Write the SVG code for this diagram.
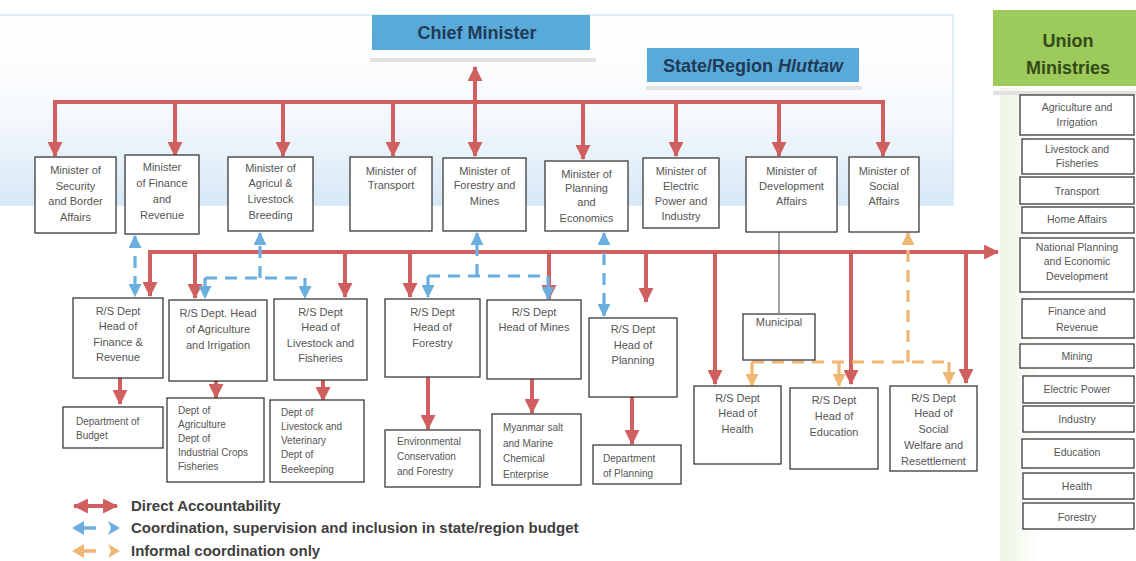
<svg xmlns="http://www.w3.org/2000/svg" width="1136" height="561" viewBox="0 0 1136 561">
<style>
.box{fill:#fff;stroke:#3a3a3a;stroke-width:1.3}
.t{font-family:"Liberation Sans",Arial,sans-serif;font-size:11px;fill:#555;text-anchor:middle}
.tl{font-family:"Liberation Sans",Arial,sans-serif;font-size:10px;fill:#555;text-anchor:start}
.tu{font-family:"Liberation Sans",Arial,sans-serif;font-size:10.5px;fill:#555;text-anchor:middle}
.title{font-family:"Liberation Sans",Arial,sans-serif;font-size:18px;font-weight:bold;text-anchor:middle}
.leg{font-family:"Liberation Sans",Arial,sans-serif;font-size:15px;font-weight:bold;fill:#404040}
.red{fill:none;stroke:#d0605f;stroke-width:4}
.blue{fill:none;stroke:#6aafdf;stroke-width:3.2;stroke-dasharray:12 8}
.orange{fill:none;stroke:#f0b774;stroke-width:3.2;stroke-dasharray:12 8}
.thin{fill:none;stroke:#444;stroke-width:1}
</style>
<defs>
<linearGradient id="bluePanel" x1="0" y1="0" x2="0" y2="1">
<stop offset="0" stop-color="#ffffff"/>
<stop offset="0.5" stop-color="#f7fafd"/>
<stop offset="1" stop-color="#d6e8f6"/>
</linearGradient>
<linearGradient id="greenPanel" x1="0" y1="0" x2="1" y2="0">
<stop offset="0" stop-color="#edf5e3"/>
<stop offset="0.3" stop-color="#ffffff"/>
<stop offset="1" stop-color="#ffffff"/>
</linearGradient>
<marker id="ar" viewBox="0 0 14 14" markerWidth="15" markerHeight="15" refX="13" refY="7" orient="auto-start-reverse" markerUnits="userSpaceOnUse">
<path d="M0,0 L14,7 L0,14 z" fill="#d0605f"/>
</marker>
<marker id="ab" viewBox="0 0 12 12" markerWidth="13" markerHeight="13" refX="11" refY="6" orient="auto-start-reverse" markerUnits="userSpaceOnUse">
<path d="M0,0 L12,6 L0,12 z" fill="#6aafdf"/>
</marker>
<marker id="ao" viewBox="0 0 12 12" markerWidth="13" markerHeight="13" refX="11" refY="6" orient="auto-start-reverse" markerUnits="userSpaceOnUse">
<path d="M0,0 L12,6 L0,12 z" fill="#f0b774"/>
</marker>
</defs>

<rect x="0" y="0" width="1136" height="561" fill="#ffffff"/>
<rect x="-5" y="15" width="958" height="190" fill="url(#bluePanel)" stroke="#d8e7f3" stroke-width="1.5"/>
<rect x="1000" y="88" width="136" height="473" fill="url(#greenPanel)"/>

<g id="chief-minister">
<rect x="370" y="58" width="226" height="4" fill="#e2e2e2"/>
<rect x="372" y="15" width="218" height="35" fill="#5aaad9"/>
<text class="title" x="477" y="39" fill="#1f3b57">Chief Minister</text>
</g>
<g id="hluttaw">
<rect x="646" y="86" width="216" height="4" fill="#e2e2e2"/>
<rect x="647" y="48" width="212" height="34" fill="#5aaad9"/>
<text class="title" x="753" y="72" fill="#1f3b57" font-size="18.5">State/Region <tspan font-style="italic">Hluttaw</tspan></text>
</g>
<g id="union-ministries">
<rect x="993" y="91" width="143" height="4" fill="#e2e2e2"/>
<rect x="993" y="10" width="143" height="76" fill="#9ccb5b"/>
<text class="title" x="1068" y="47" fill="#344a18" font-size="19">Union</text>
<text class="title" x="1068" y="74" fill="#344a18" font-size="19">Ministries</text>
</g>

<g id="connectors">
<path class="red" d="M55,156 V102 H883 V156" marker-start="url(#ar)" marker-end="url(#ar)"/>
<path class="red" d="M175,102 V156" marker-end="url(#ar)"/>
<path class="red" d="M283,102 V156" marker-end="url(#ar)"/>
<path class="red" d="M393,102 V156" marker-end="url(#ar)"/>
<path class="red" d="M583,102 V159" marker-end="url(#ar)"/>
<path class="red" d="M676,102 V156" marker-end="url(#ar)"/>
<path class="red" d="M779,102 V156" marker-end="url(#ar)"/>
<path class="red" d="M475,67 V156" marker-start="url(#ar)" marker-end="url(#ar)"/>

<path class="red" d="M150,296 V252 H998" marker-start="url(#ar)" marker-end="url(#ar)"/>
<path class="red" d="M195,252 V298" marker-end="url(#ar)"/>
<path class="red" d="M345,252 V297" marker-end="url(#ar)"/>
<path class="red" d="M410,252 V297" marker-end="url(#ar)"/>
<path class="red" d="M549,252 V299" marker-end="url(#ar)"/>
<path class="red" d="M646,252 V302" marker-end="url(#ar)"/>
<path class="red" d="M715,252 V384" marker-end="url(#ar)"/>
<path class="red" d="M851,252 V384" marker-end="url(#ar)"/>
<path class="red" d="M966,252 V383" marker-end="url(#ar)"/>

<path class="thin" d="M779,232 V313"/>

<path class="blue" d="M135,236 V296" marker-start="url(#ab)" marker-end="url(#ab)"/>
<path class="blue" d="M260,278 V233" marker-end="url(#ab)"/>
<path class="blue" d="M205,278 H305"/>
<path class="blue" d="M205,278 V298" marker-end="url(#ab)" stroke-dasharray="none"/>
<path class="blue" d="M305,278 V298" marker-end="url(#ab)" stroke-dasharray="none"/>
<path class="blue" d="M477,276 V233" marker-end="url(#ab)"/>
<path class="blue" d="M428,276 H548"/>
<path class="blue" d="M428,276 V297" marker-end="url(#ab)" stroke-dasharray="none"/>
<path class="blue" d="M548,276 V299" marker-end="url(#ab)" stroke-dasharray="none"/>
<path class="blue" d="M604,233 V316" marker-start="url(#ab)" marker-end="url(#ab)"/>

<path class="orange" d="M908,362 V233" marker-end="url(#ao)"/>
<path class="orange" d="M752,362 H950"/>
<path class="orange" d="M752,362 V386" marker-end="url(#ao)" stroke-dasharray="none"/>
<path class="orange" d="M839,362 V386" marker-end="url(#ao)" stroke-dasharray="none"/>
<path class="orange" d="M949,362 V384" marker-end="url(#ao)" stroke-dasharray="none"/>

<path class="red" d="M120,378 V404" marker-end="url(#ar)"/>
<path class="red" d="M216,381 V398" marker-end="url(#ar)"/>
<path class="red" d="M323,380 V401" marker-end="url(#ar)"/>
<path class="red" d="M428,377 V429" marker-end="url(#ar)"/>
<path class="red" d="M532,379 V413" marker-end="url(#ar)"/>
<path class="red" d="M632,397 V444" marker-end="url(#ar)"/>
</g>

<g id="min-security"><rect class="box" x="35" y="157" width="81" height="76"/>
<text class="t" x="75.5" y="174">Minister of</text><text class="t" x="75.5" y="189.5">Security</text><text class="t" x="75.5" y="205">and Border</text><text class="t" x="75.5" y="220.5">Affairs</text></g>
<g id="min-finance"><rect class="box" x="125" y="155" width="74" height="79"/>
<text class="t" x="162" y="171">Minister</text><text class="t" x="162" y="187">of Finance</text><text class="t" x="162" y="203">and</text><text class="t" x="162" y="219">Revenue</text></g>
<g id="min-agri"><rect class="box" x="228" y="157" width="85" height="74"/>
<text class="t" x="270.5" y="172">Minister of</text><text class="t" x="270.5" y="187">Agricul  &amp;</text><text class="t" x="270.5" y="203">Livestock</text><text class="t" x="270.5" y="219">Breeding</text></g>
<g id="min-transport"><rect class="box" x="350" y="157" width="82" height="74"/>
<text class="t" x="391" y="175">Minister of</text><text class="t" x="391" y="189">Transport</text></g>
<g id="min-forestry"><rect class="box" x="443" y="158" width="83" height="73"/>
<text class="t" x="484.5" y="175">Minister of</text><text class="t" x="484.5" y="189">Forestry and</text><text class="t" x="484.5" y="205">Mines</text></g>
<g id="min-planning"><rect class="box" x="545" y="161" width="83" height="70"/>
<text class="t" x="586.5" y="178">Minister of</text><text class="t" x="586.5" y="191.5">Planning</text><text class="t" x="586.5" y="206">and</text><text class="t" x="586.5" y="222">Economics</text></g>
<g id="min-electric"><rect class="box" x="643" y="158" width="76" height="70"/>
<text class="t" x="681" y="175">Minister of</text><text class="t" x="681" y="190">Electric</text><text class="t" x="681" y="205">Power and</text><text class="t" x="681" y="220">Industry</text></g>
<g id="min-development"><rect class="box" x="746" y="157" width="91" height="75"/>
<text class="t" x="791.5" y="175">Minister of</text><text class="t" x="791.5" y="190">Development</text><text class="t" x="791.5" y="205">Affairs</text></g>
<g id="min-social"><rect class="box" x="849" y="157" width="70" height="75"/>
<text class="t" x="884" y="175">Minister of</text><text class="t" x="884" y="190">Social</text><text class="t" x="884" y="205">Affairs</text></g>

<g id="rs-finance"><rect class="box" x="73" y="298" width="90" height="80"/>
<text class="t" x="118" y="315">R/S Dept</text><text class="t" x="118" y="330">Head of</text><text class="t" x="118" y="345.5">Finance &amp;</text><text class="t" x="118" y="361">Revenue</text></g>
<g id="rs-agri"><rect class="box" x="169" y="300" width="98" height="81"/>
<text class="t" x="218" y="317">R/S Dept. Head</text><text class="t" x="218" y="333">of Agriculture</text><text class="t" x="218" y="349">and Irrigation</text></g>
<g id="rs-livestock"><rect class="box" x="274" y="299" width="93" height="81"/>
<text class="t" x="320.5" y="316">R/S Dept</text><text class="t" x="320.5" y="331">Head of</text><text class="t" x="320.5" y="346.5">Livestock and</text><text class="t" x="320.5" y="362">Fisheries</text></g>
<g id="rs-forestry"><rect class="box" x="385" y="299" width="95" height="78"/>
<text class="t" x="432.5" y="316">R/S Dept</text><text class="t" x="432.5" y="331">Head of</text><text class="t" x="432.5" y="347">Forestry</text></g>
<g id="rs-mines"><rect class="box" x="487" y="300" width="94" height="79"/>
<text class="t" x="534" y="316">R/S Dept</text><text class="t" x="534" y="331">Head of Mines</text></g>
<g id="rs-planning"><rect class="box" x="589" y="318" width="88" height="79"/>
<text class="t" x="633" y="333">R/S Dept</text><text class="t" x="633" y="348.5">Head of</text><text class="t" x="633" y="364">Planning</text></g>
<g id="municipal"><rect class="box" x="743" y="314" width="72" height="46"/>
<text class="t" x="779" y="326">Municipal</text></g>
<g id="rs-health"><rect class="box" x="694" y="386" width="87" height="78"/>
<text class="t" x="737.5" y="402">R/S Dept</text><text class="t" x="737.5" y="417">Head of</text><text class="t" x="737.5" y="433">Health</text></g>
<g id="rs-education"><rect class="box" x="790" y="388" width="88" height="81"/>
<text class="t" x="834" y="404">R/S Dept</text><text class="t" x="834" y="420">Head of</text><text class="t" x="834" y="436">Education</text></g>
<g id="rs-social"><rect class="box" x="890" y="386" width="87" height="85"/>
<text class="t" x="933.5" y="402">R/S Dept</text><text class="t" x="933.5" y="417">Head of</text><text class="t" x="933.5" y="433">Social</text><text class="t" x="933.5" y="449">Welfare and</text><text class="t" x="933.5" y="465">Resettlement</text></g>

<g id="dept-budget"><rect class="box" x="63" y="407" width="100" height="41"/>
<text class="tl" x="76" y="425">Department of</text><text class="tl" x="76" y="439">Budget</text></g>
<g id="dept-agri"><rect class="box" x="167" y="398" width="97" height="84"/>
<text class="tl" x="178" y="414">Dept  of</text><text class="tl" x="178" y="428">Agriculture</text><text class="tl" x="178" y="442">Dept  of</text><text class="tl" x="178" y="456">Industrial Crops</text><text class="tl" x="178" y="470">Fisheries</text></g>
<g id="dept-livestock"><rect class="box" x="270" y="400" width="94" height="82"/>
<text class="tl" x="281" y="416">Dept  of</text><text class="tl" x="281" y="430">Livestock and</text><text class="tl" x="281" y="444">Veterinary</text><text class="tl" x="281" y="458">Dept  of</text><text class="tl" x="281" y="473">Beekeeping</text></g>
<g id="dept-environment"><rect class="box" x="385" y="430" width="95" height="57"/>
<text class="tl" x="397" y="445">Environmental</text><text class="tl" x="397" y="460">Conservation</text><text class="tl" x="397" y="475">and Forestry</text></g>
<g id="dept-myanmar-salt"><rect class="box" x="492" y="414" width="89" height="71"/>
<text class="tl" x="503" y="431">Myanmar salt</text><text class="tl" x="503" y="447">and Marine</text><text class="tl" x="503" y="462">Chemical</text><text class="tl" x="503" y="478">Enterprise</text></g>
<g id="dept-planning"><rect class="box" x="593" y="445" width="88" height="39"/>
<text class="tl" x="603" y="462">Department</text><text class="tl" x="603" y="477">of Planning</text></g>

<g id="um-agri"><rect class="box" x="1020" y="95" width="114" height="40"/>
<text class="tu" x="1077" y="111">Agriculture and</text><text class="tu" x="1077" y="126">Irrigation</text></g>
<g id="um-livestock"><rect class="box" x="1022" y="139" width="112" height="35"/>
<text class="tu" x="1077" y="153">Livestock and</text><text class="tu" x="1077" y="167">Fisheries</text></g>
<g id="um-transport"><rect class="box" x="1020" y="177" width="114" height="27"/>
<text class="tu" x="1077" y="195">Transport</text></g>
<g id="um-home"><rect class="box" x="1022" y="207" width="112" height="26"/>
<text class="tu" x="1077" y="223">Home Affairs</text></g>
<g id="um-national-planning"><rect class="box" x="1020" y="238" width="114" height="54"/>
<text class="tu" x="1077" y="251">National Planning</text><text class="tu" x="1077" y="265">and Economic</text><text class="tu" x="1077" y="280">Development</text></g>
<g id="um-finance"><rect class="box" x="1022" y="299" width="112" height="39"/>
<text class="tu" x="1077" y="315">Finance and</text><text class="tu" x="1077" y="331">Revenue</text></g>
<g id="um-mining"><rect class="box" x="1020" y="344" width="114" height="24"/>
<text class="tu" x="1077" y="360">Mining</text></g>
<g id="um-electric"><rect class="box" x="1023" y="376" width="111" height="27"/>
<text class="tu" x="1077" y="393">Electric Power</text></g>
<g id="um-industry"><rect class="box" x="1023" y="406" width="111" height="26"/>
<text class="tu" x="1077" y="423">Industry</text></g>
<g id="um-education"><rect class="box" x="1022" y="439" width="112" height="29"/>
<text class="tu" x="1077" y="456">Education</text></g>
<g id="um-health"><rect class="box" x="1023" y="473" width="111" height="26"/>
<text class="tu" x="1077" y="490">Health</text></g>
<g id="um-forestry"><rect class="box" x="1023" y="503" width="111" height="26"/>
<text class="tu" x="1077" y="521">Forestry</text></g>

<g id="legend">
<path class="red" d="M74,506 H117" stroke-width="5" marker-start="url(#ar)" marker-end="url(#ar)"/>
<path d="M82,528 H96" stroke="#6aafdf" stroke-width="3.5" fill="none"/>
<path d="M72,528 L84,521 L84,535 z" fill="#6aafdf"/>
<path d="M108,521 L120,528 L108,535 L111,528 z" fill="#6aafdf"/>
<path d="M82,551 H96" stroke="#f0b774" stroke-width="3.5" fill="none"/>
<path d="M72,551 L84,544 L84,558 z" fill="#f0b774"/>
<path d="M108,544 L120,551 L108,558 L111,551 z" fill="#f0b774"/>
<text class="leg" x="131" y="511">Direct Accountability</text>
<text class="leg" x="131" y="533">Coordination, supervision and inclusion in state/region budget</text>
<text class="leg" x="131" y="556">Informal coordination only</text>
</g>
</svg>
